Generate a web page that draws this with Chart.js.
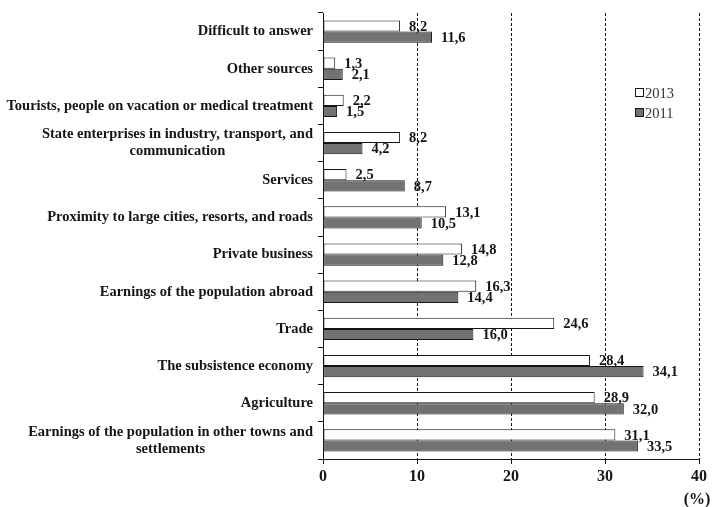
<!DOCTYPE html>
<html><head><meta charset="utf-8">
<script src="https://cdn.jsdelivr.net/npm/chart.js@4/dist/chart.umd.min.js"></script>
<style>html,body{margin:0;padding:0;background:#fff}#wrap{width:712px;height:507px}</style>
</head><body><div id="wrap"><canvas id="c" width="712" height="507"></canvas></div>
<script>
const categories = [
  ["Difficult to answer"],
  ["Other sources"],
  ["Tourists, people on vacation or medical treatment"],
  ["State enterprises in industry, transport, and", "communication"],
  ["Services"],
  ["Proximity to large cities, resorts, and roads"],
  ["Private business"],
  ["Earnings of the population abroad"],
  ["Trade"],
  ["The subsistence economy"],
  ["Agriculture"],
  ["Earnings of the population in other towns and", "settlements"]
];
const seriesNames = ["2013", "2011"];
const values2013 = [8.2, 1.3, 2.2, 8.2, 2.5, 13.1, 14.8, 16.3, 24.6, 28.4, 28.9, 31.1];
const values2011 = [11.6, 2.1, 1.5, 4.2, 8.7, 10.5, 12.8, 14.4, 16.0, 34.1, 32.0, 33.5];
const xTickValues = [0, 10, 20, 30, 40];
const axisUnit = "(%)";

const SERIF = '"Liberation Serif", "Times New Roman", serif';
const INK = '#151515';

const drawPlugin = {
  id: 'custom',
  afterDatasetsDraw(chart) {
    const ctx = chart.ctx;
    const ys = chart.scales.y;
    const area = chart.chartArea;
    ctx.save();
    ctx.fillStyle = INK;
    // category labels
    ctx.font = 'bold 14.5px ' + SERIF;
    ctx.textBaseline = 'middle';
    const lineH = 17;
    const rightX = area.left - 10;
    categories.forEach((lines, i) => {
      const yc = ys.getPixelForValue(i);
      const n = lines.length;
      let w = 0;
      lines.forEach(l => { w = Math.max(w, ctx.measureText(l).width); });
      lines.forEach((l, k) => {
        const y = yc - (n - 1) * lineH / 2 + k * lineH;
        if (n === 1) { ctx.textAlign = 'right'; ctx.fillText(l, rightX, y); }
        else { ctx.textAlign = 'center'; ctx.fillText(l, rightX - w / 2, y); }
      });
    });
    // data labels
    ctx.font = 'bold 14.5px ' + SERIF;
    ctx.textAlign = 'left';
    chart.data.datasets.forEach((ds, di) => {
      const meta = chart.getDatasetMeta(di);
      meta.data.forEach((el, i) => {
        const txt = ds.data[i].toFixed(1).replace('.', ',');
        ctx.fillText(txt, el.x + 9, el.y + 1);
      });
    });
    // legend
    ctx.font = '14.5px ' + SERIF;
    ctx.textAlign = 'left';
    chart.data.datasets.forEach((ds, di) => {
      const y = 93 + di * 20;
      ctx.fillStyle = ds.backgroundColor;
      ctx.fillRect(635.5, y - 4.5, 8, 8);
      ctx.strokeStyle = INK;
      ctx.lineWidth = 1;
      ctx.strokeRect(635.5, y - 4.5, 8, 8);
      ctx.fillStyle = '#333';
      ctx.fillText(ds.label, 645, y + 1);
    });
    // unit
    ctx.fillStyle = INK;
    ctx.font = 'bold 16px ' + SERIF;
    ctx.textAlign = 'center';
    ctx.fillText(axisUnit, 697, 500);
    ctx.restore();
  }
};

new Chart(document.getElementById('c'), {
  type: 'bar',
  data: {
    labels: categories.map(c => c.join(' ')),
    datasets: [
      { label: seriesNames[0], data: values2013, backgroundColor: '#ffffff', borderColor: INK, borderWidth: 1, borderSkipped: false },
      { label: seriesNames[1], data: values2011, backgroundColor: '#727272', borderColor: INK, borderWidth: 1, borderSkipped: false }
    ]
  },
  options: {
    indexAxis: 'y',
    responsive: false,
    animation: false,
    devicePixelRatio: 1,
    layout: { padding: { top: 13, right: 13, left: 0, bottom: 0 } },
    datasets: { bar: { categoryPercentage: 0.6, barPercentage: 1.0 } },
    plugins: { legend: { display: false }, tooltip: { enabled: false } },
    scales: {
      x: {
        type: 'linear', min: xTickValues[0], max: xTickValues[xTickValues.length - 1],
        afterBuildTicks: s => { s.ticks = xTickValues.map(v => ({ value: v })); },
        afterFit: s => { s.height = 48; },
        ticks: { color: INK, font: { family: SERIF, size: 16, weight: 'bold' }, padding: 3, maxRotation: 0 },
        grid: { color: INK, lineWidth: 1, drawOnChartArea: true, drawTicks: true, tickLength: 5, tickColor: INK, tickBorderDash: [] },
        border: { display: true, color: INK, width: 1, dash: [3, 2] }
      },
      y: {
        type: 'category', offset: true,
        afterFit: s => { s.width = 323; },
        ticks: { display: false },
        grid: { offset: true, drawOnChartArea: false, drawTicks: true, tickLength: 5, color: INK, tickColor: INK },
        border: { display: true, color: INK, width: 1 }
      }
    }
  },
  plugins: [drawPlugin]
});
</script>
</body></html>
